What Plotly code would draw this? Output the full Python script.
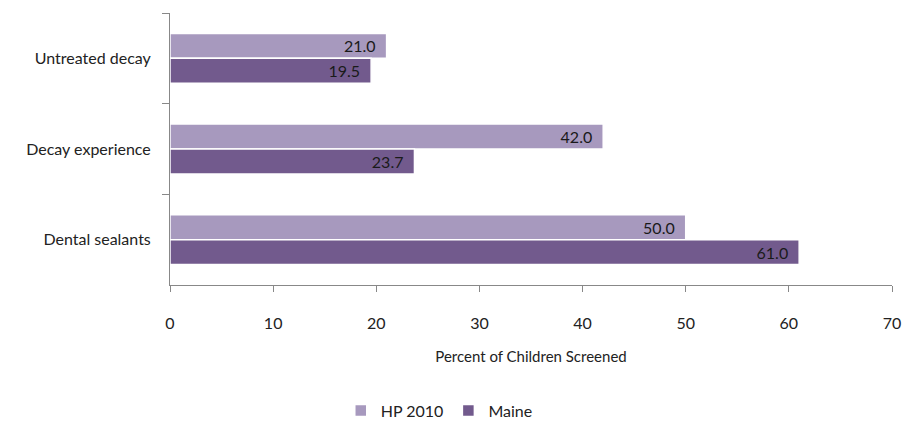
import plotly.graph_objects as go

categories = ["Untreated decay", "Decay experience", "Dental sealants"]
hp2010 = [21.0, 42.0, 50.0]
maine = [19.5, 23.7, 61.0]
series_names = ["HP 2010", "Maine"]
x_ticks = [0, 10, 20, 30, 40, 50, 60, 70]

colors = ["#A799BE", "#725A8D"]
font = "Lato, 'Open Sans', sans-serif"

fig = go.Figure()
for name, vals, col in zip(series_names, [hp2010, maine], colors):
    fig.add_trace(go.Bar(
        y=categories, x=vals, name=name, orientation="h",
        marker=dict(color=col, line=dict(color="white", width=1.5)),
        text=[f"{v:.1f}\u2002" for v in vals], textposition="inside",
        insidetextanchor="end", constraintext="none",
        textfont=dict(color="#1a1a1a", size=16, family=font),
    ))

fig.update_layout(
    width=902, height=421,
    margin=dict(l=170, r=10, t=13, b=136, autoexpand=False),
    paper_bgcolor="white", plot_bgcolor="white",
    barmode="group", bargap=0.45, bargroupgap=0.0,
    font=dict(family=font, size=15, color="#222"),
    showlegend=True,
    legend=dict(orientation="h", x=0.487, xanchor="center", xref="container",
                y=0.025, yanchor="middle", yref="container",
                font=dict(size=16, family=font), traceorder="normal"),
    xaxis=dict(range=[0, 70], tickvals=x_ticks,
               showgrid=False, zeroline=False,
               showline=True, linecolor="#888", linewidth=1, automargin=False,
               ticks="outside", ticklen=6, tickcolor="#888",
               tickfont=dict(size=16, family=font, color="#222"),
               ticklabelstandoff=18, ticklabeloverflow="allow",
               title=dict(text="Percent of Children Screened", font=dict(size=15, family=font), standoff=20)),
    yaxis=dict(autorange="reversed", showgrid=False, showline=True, linecolor="#888",
               linewidth=1, ticks="outside", ticklen=7, tickcolor="#888", automargin=False,
               tickson="boundaries", ticklabelstandoff=15,
               tickfont=dict(size=16, family=font, color="#222")),
)

fig.write_html("out.html", config={"displayModeBar": False},
               post_script="document.body.style.margin='0';document.body.style.overflow='hidden';")
